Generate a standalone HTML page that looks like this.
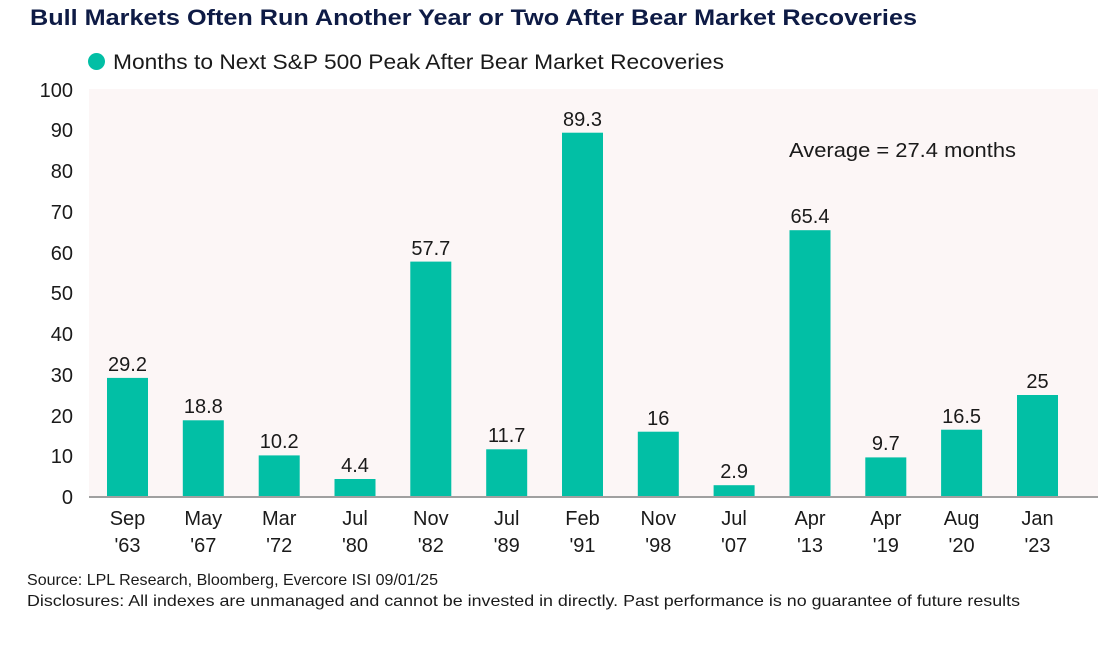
<!DOCTYPE html>
<html><head><meta charset="utf-8"><style>
html,body{margin:0;padding:0;background:#fff;}
svg{display:block;}
text{font-family:"Liberation Sans",sans-serif;}
</style></head><body>
<svg width="1114" height="649" viewBox="0 0 1114 649" xmlns="http://www.w3.org/2000/svg">
<rect x="0" y="0" width="1114" height="649" fill="#ffffff"/>
<text x="30" y="25" font-size="22" font-weight="bold" fill="#0e1b45" textLength="887" lengthAdjust="spacingAndGlyphs">Bull Markets Often Run Another Year or Two After Bear Market Recoveries</text>
<circle cx="96.5" cy="61.5" r="8.5" fill="#02bfa5"/>
<text x="113" y="69" font-size="21" fill="#1a1a1a" textLength="611" lengthAdjust="spacingAndGlyphs">Months to Next S&amp;P 500 Peak After Bear Market Recoveries</text>
<rect x="89" y="89" width="1009" height="408" fill="#fcf6f6"/>
<g font-size="20" fill="#1a1a1a" text-anchor="end">
<text x="73" y="97">100</text>
<text x="73" y="137">90</text>
<text x="73" y="178">80</text>
<text x="73" y="219">70</text>
<text x="73" y="260">60</text>
<text x="73" y="300">50</text>
<text x="73" y="341">40</text>
<text x="73" y="382">30</text>
<text x="73" y="423">20</text>
<text x="73" y="463">10</text>
<text x="73" y="504">0</text>
</g>
<g fill="#02bfa5">
<rect x="107" y="377.9" width="41" height="119.1"/>
<rect x="182.8" y="420.3" width="41" height="76.7"/>
<rect x="258.7" y="455.4" width="41" height="41.6"/>
<rect x="334.5" y="479" width="41" height="18"/>
<rect x="410.3" y="261.6" width="41" height="235.4"/>
<rect x="486.2" y="449.3" width="41" height="47.7"/>
<rect x="562" y="132.7" width="41" height="364.3"/>
<rect x="637.8" y="431.7" width="41" height="65.3"/>
<rect x="713.6" y="485.2" width="41" height="11.8"/>
<rect x="789.5" y="230.2" width="41" height="266.8"/>
<rect x="865.3" y="457.4" width="41" height="39.6"/>
<rect x="941.1" y="429.7" width="41" height="67.3"/>
<rect x="1017" y="395" width="41" height="102"/>
</g>
<line x1="89" y1="497" x2="1098" y2="497" stroke="#a0a0a0" stroke-width="2"/>
<g font-size="20" fill="#1a1a1a" text-anchor="middle">
<text x="127.5" y="371">29.2</text>
<text x="203.3" y="413">18.8</text>
<text x="279.2" y="448">10.2</text>
<text x="355" y="472">4.4</text>
<text x="430.8" y="255">57.7</text>
<text x="506.7" y="442">11.7</text>
<text x="582.5" y="126">89.3</text>
<text x="658.3" y="425">16</text>
<text x="734.1" y="478">2.9</text>
<text x="810" y="223">65.4</text>
<text x="885.8" y="450">9.7</text>
<text x="961.6" y="423">16.5</text>
<text x="1037.5" y="388">25</text>
</g>
<g font-size="20" fill="#1a1a1a" text-anchor="middle">
<text x="127.5" y="525">Sep</text><text x="127.5" y="552">'63</text>
<text x="203.3" y="525">May</text><text x="203.3" y="552">'67</text>
<text x="279.2" y="525">Mar</text><text x="279.2" y="552">'72</text>
<text x="355" y="525">Jul</text><text x="355" y="552">'80</text>
<text x="430.8" y="525">Nov</text><text x="430.8" y="552">'82</text>
<text x="506.7" y="525">Jul</text><text x="506.7" y="552">'89</text>
<text x="582.5" y="525">Feb</text><text x="582.5" y="552">'91</text>
<text x="658.3" y="525">Nov</text><text x="658.3" y="552">'98</text>
<text x="734.1" y="525">Jul</text><text x="734.1" y="552">'07</text>
<text x="810" y="525">Apr</text><text x="810" y="552">'13</text>
<text x="885.8" y="525">Apr</text><text x="885.8" y="552">'19</text>
<text x="961.6" y="525">Aug</text><text x="961.6" y="552">'20</text>
<text x="1037.5" y="525">Jan</text><text x="1037.5" y="552">'23</text>
</g>
<text x="789" y="157" font-size="20" fill="#1a1a1a" textLength="227" lengthAdjust="spacingAndGlyphs">Average = 27.4 months</text>
<text x="27" y="585" font-size="16" fill="#1a1a1a" textLength="411" lengthAdjust="spacingAndGlyphs">Source: LPL Research, Bloomberg, Evercore ISI 09/01/25</text>
<text x="27" y="606" font-size="16" fill="#1a1a1a" textLength="993" lengthAdjust="spacingAndGlyphs">Disclosures: All indexes are unmanaged and cannot be invested in directly. Past performance is no guarantee of future results</text>
</svg>
</body></html>
